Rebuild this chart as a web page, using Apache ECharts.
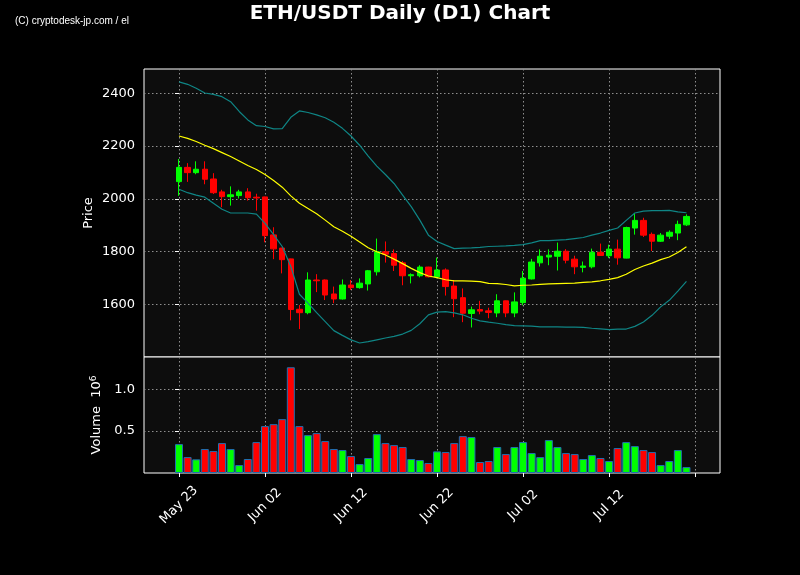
<!DOCTYPE html>
<html><head><meta charset="utf-8">
<script src="https://cdn.jsdelivr.net/npm/echarts@6/dist/echarts.min.js"></script>
<style>html,body{margin:0;padding:0;background:#000}#c{width:800px;height:575px}</style>
</head><body><div id="c"></div>
<script>
const dates = ['2023-05-23','2023-05-24','2023-05-25','2023-05-26','2023-05-27','2023-05-28','2023-05-29','2023-05-30','2023-05-31',
'2023-06-01','2023-06-02','2023-06-03','2023-06-04','2023-06-05','2023-06-06','2023-06-07','2023-06-08','2023-06-09','2023-06-10',
'2023-06-11','2023-06-12','2023-06-13','2023-06-14','2023-06-15','2023-06-16','2023-06-17','2023-06-18','2023-06-19','2023-06-20',
'2023-06-21','2023-06-22','2023-06-23','2023-06-24','2023-06-25','2023-06-26','2023-06-27','2023-06-28','2023-06-29','2023-06-30',
'2023-07-01','2023-07-02','2023-07-03','2023-07-04','2023-07-05','2023-07-06','2023-07-07','2023-07-08','2023-07-09','2023-07-10',
'2023-07-11','2023-07-12','2023-07-13','2023-07-14','2023-07-15','2023-07-16','2023-07-17','2023-07-18','2023-07-19','2023-07-20','2023-07-21'];
const openP  = [2065,2119,2099,2112,2075,2026,2008,2012,2026,2006,2007,1863,1813,1772,1581,1568,1692,1692,1639,1620,
                1673,1663,1677,1723,1799,1792,1757,1708,1708,1741,1704,1730,1669,1625,1565,1580,1575,1567,1613,1567,
                1606,1696,1757,1779,1782,1801,1771,1740,1742,1797,1784,1809,1775,1889,1918,1865,1839,1858,1870,1901];
const highP  = [2151,2135,2142,2142,2097,2034,2047,2034,2040,2019,2008,1892,1814,1773,1597,1721,1714,1694,1667,1694,
                1692,1698,1730,1849,1838,1808,1764,1717,1748,1742,1777,1736,1692,1660,1591,1613,1587,1638,1614,1645,
                1726,1772,1808,1808,1834,1809,1784,1762,1811,1830,1826,1845,1894,1943,1928,1872,1870,1880,1917,1941];
const lowP   = [2011,2064,2093,2055,2018,1968,1974,2001,1993,1955,1835,1771,1717,1539,1506,1562,1646,1616,1604,1618,
                1654,1659,1652,1709,1758,1726,1672,1679,1702,1702,1698,1633,1551,1532,1512,1562,1547,1551,1551,1551,
                1596,1694,1743,1748,1728,1755,1714,1721,1736,1784,1775,1750,1774,1864,1855,1802,1836,1848,1843,1897];
const closeP = [2119,2099,2112,2074,2023,2008,2015,2026,2004,2003,1860,1810,1769,1580,1568,1692,1689,1635,1620,1673,
                1663,1680,1727,1799,1790,1748,1708,1712,1741,1704,1730,1667,1621,1566,1579,1574,1569,1613,1567,1609,
                1699,1760,1782,1786,1801,1767,1742,1745,1797,1785,1809,1776,1891,1918,1862,1839,1862,1873,1903,1933];
const volumeM = [0.345,0.190,0.163,0.286,0.262,0.357,0.286,0.095,0.167,0.369,0.560,0.583,0.643,1.262,0.560,0.452,0.476,0.381,0.286,0.274,
                 0.202,0.107,0.179,0.464,0.357,0.333,0.310,0.167,0.155,0.119,0.258,0.250,0.357,0.440,0.429,0.131,0.143,0.310,0.226,0.310,
                 0.369,0.238,0.190,0.393,0.310,0.238,0.226,0.167,0.214,0.179,0.143,0.298,0.369,0.321,0.274,0.250,0.095,0.143,0.274,0.071];
const sma20 = [2238,2229,2217,2203,2190,2175,2160,2143,2126,2111,2092,2069,2044,2011,1983,1963,1943,1919,1894,1877,
               1858,1836,1814,1799,1787,1771,1754,1736,1720,1707,1701,1693,1689,1689,1688,1686,1679,1678,1675,1670,
               1672,1673,1675,1677,1678,1679,1680,1683,1685,1689,1694,1701,1714,1732,1745,1756,1769,1779,1796,1818];
const bbUpper = [2443,2434,2419,2401,2396,2387,2368,2331,2299,2277,2274,2265,2266,2309,2333,2327,2318,2307,2290,2267,
                 2238,2203,2162,2124,2092,2058,2014,1970,1919,1862,1838,1824,1811,1813,1814,1816,1819,1820,1821,1823,
                 1826,1833,1841,1841,1843,1845,1849,1853,1862,1870,1880,1889,1918,1946,1953,1955,1955,1956,1950,1947];
const bbLower = [2036,2023,2014,2006,1983,1960,1946,1946,1946,1942,1907,1864,1819,1743,1638,1604,1568,1534,1500,1482,
                 1465,1453,1458,1465,1472,1478,1487,1501,1526,1560,1570,1572,1567,1560,1547,1537,1532,1528,1523,1519,
                 1518,1517,1514,1514,1514,1513,1513,1512,1509,1507,1504,1506,1506,1516,1533,1558,1590,1615,1650,1687];
const xTickIndex  = [0,10,20,30,40,50,60];
const xTickLabels = ['May 23','Jun 02','Jun 12','Jun 22','Jul 02','Jul 12',''];
const priceTicks  = [1600,1800,2000,2200,2400];
const volumeTicks = [0.5,1.0];

const UP='#00ff00', DOWN='#ff0000';
const FONT='DejaVu Sans';
const candles = dates.map((d,i)=>[i,openP[i],closeP[i],lowP[i],highP[i]]);
const volBars = dates.map((d,i)=>({value:[i,volumeM[i]],itemStyle:{color: closeP[i]>=openP[i]?UP:DOWN}}));
const line = arr => arr.map((v,i)=>[i,v]);
const grid = {show:true,backgroundColor:'#0d0d0d',borderColor:'#ffffff',borderWidth:1,containLabel:false};
const dotted = {show:true,lineStyle:{color:'#8f8f8f',type:[1.5,2.5],width:1}};
const xLabel = v => { const k = xTickIndex.indexOf(Math.round(v)); return k>=0 ? xTickLabels[k] : ''; };

const chart = echarts.init(document.getElementById('c'),null,{renderer:'canvas'});
chart.setOption({
  backgroundColor:'#000000',
  animation:false,
  title:{text:'ETH/USDT Daily (D1) Chart',left:'center',top:-1,textStyle:{color:'#fff',fontSize:20,fontWeight:'bold',fontFamily:FONT}},
  graphic:[{type:'text',left:15,top:16,style:{text:'(C) cryptodesk-jp.com / el',fill:'#fff',fontSize:10,fontFamily:'Liberation Sans Narrow, Liberation Sans, sans-serif'}}],
  grid:[
    Object.assign({left:144,right:80,top:69,height:288},grid),
    Object.assign({left:144,right:80,top:357,height:116},grid)
  ],
  xAxis:[
    {type:'value',gridIndex:0,min:-4.07,max:62.9,axisLine:{show:false},
     axisTick:{show:false,customValues:xTickIndex},axisLabel:{show:false,customValues:xTickIndex},splitLine:dotted},
    {type:'value',gridIndex:1,min:-4.07,max:62.9,axisLine:{show:false},
     axisTick:{show:true,customValues:xTickIndex,length:4,lineStyle:{color:'#fff'}},
     axisLabel:{show:true,customValues:xTickIndex,rotate:45,align:'center',verticalAlign:'middle',color:'#fff',fontSize:13,fontFamily:FONT,margin:32,formatter:xLabel},
     splitLine:dotted}
  ],
  yAxis:[
    {type:'value',gridIndex:0,min:1400,max:2492,name:'Price',nameLocation:'middle',nameGap:49,nameRotate:90,nameMoveOverlap:false,
     nameTextStyle:{color:'#fff',fontSize:13,fontFamily:FONT},
     axisLine:{show:false},axisTick:{show:true,customValues:priceTicks,length:4,lineStyle:{color:'#fff'}},
     axisLabel:{customValues:priceTicks,color:'#fff',fontSize:13,fontFamily:FONT,margin:9,formatter:v=>String(Math.round(v))},splitLine:dotted},
    {type:'value',gridIndex:1,min:0,max:1.3845,name:'Volume  10{s|6}',nameLocation:'middle',nameGap:40,nameRotate:90,nameMoveOverlap:false,
     nameTextStyle:{color:'#fff',fontSize:13,fontFamily:FONT,rich:{s:{fontSize:9,verticalAlign:'top',color:'#fff',fontFamily:FONT,padding:[0,0,6,0]}}},
     axisLine:{show:false},axisTick:{show:true,customValues:volumeTicks,length:4,lineStyle:{color:'#fff'}},
     axisLabel:{customValues:volumeTicks,color:'#fff',fontSize:13,fontFamily:FONT,margin:9,formatter:v=>v.toFixed(1)},splitLine:dotted}
  ],
  series:[
    {type:'candlestick',xAxisIndex:0,yAxisIndex:0,data:candles,barWidth:6,z:2,
     itemStyle:{color:UP,color0:DOWN,borderColor:UP,borderColor0:DOWN,borderColorDoji:DOWN,borderWidth:1}},
    {type:'line',xAxisIndex:0,yAxisIndex:0,data:line(sma20),showSymbol:false,z:5,lineStyle:{color:'#ffff00',width:1.2}},
    {type:'line',xAxisIndex:0,yAxisIndex:0,data:line(bbUpper),showSymbol:false,z:5,lineStyle:{color:'#0f8585',width:1.2}},
    {type:'line',xAxisIndex:0,yAxisIndex:0,data:line(bbLower),showSymbol:false,z:5,lineStyle:{color:'#0f8585',width:1.2}},
    {type:'bar',xAxisIndex:1,yAxisIndex:1,data:volBars,barWidth:8,itemStyle:{borderColor:'#1f6fb0',borderWidth:1}}
  ]
});
</script></body></html>
